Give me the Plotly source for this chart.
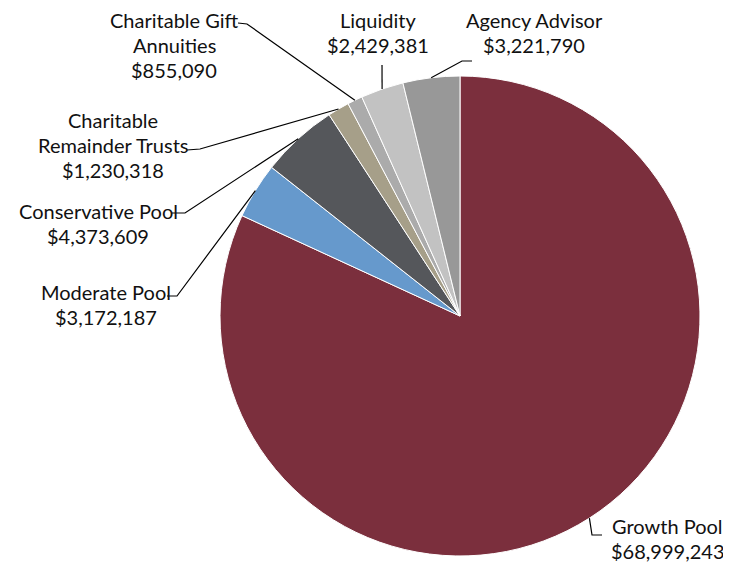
import math
import plotly.graph_objects as go

categories = ["Growth Pool", "Moderate Pool", "Conservative Pool",
              "Charitable Remainder Trusts", "Charitable Gift Annuities",
              "Liquidity", "Agency Advisor"]
values = [68999243, 3172187, 4373609, 1230318, 855090, 2429381, 3221790]
label_lines = [["Growth Pool"], ["Moderate Pool"], ["Conservative Pool"],
               ["Charitable", "Remainder Trusts"], ["Charitable Gift", "Annuities"],
               ["Liquidity"], ["Agency Advisor"]]
colors = ["#7B2F3D", "#6699CC", "#55575B", "#A69F89", "#ABABAB", "#C2C2C2", "#989898"]

W, H = 731, 563
OFF = 8  # page body margin
CX, CY, R = 460, 316, 240
FONT = dict(family="Lato, 'Open Sans', sans-serif", size=20, color="#111111")
LINE_H = 25

# label placement: (center x, y of first line) in page pixels, and leader elbow points
label_pos = [(667, 526), (106, 292), (98, 211), (113, 120), (174, 20), (378, 20), (534, 20)]
elbow = [[(592, 535), (602, 535)],
         [(177, 296), (167, 296)],
         [(185, 213), (172, 213)],
         [(200, 149), (187, 150)],
         [(247, 24), (238, 23)],
         [(382, 65)],
         [(462, 61), (472, 61)]]

fig = go.Figure()
PW, PH = W - OFF, H - OFF
fig.add_trace(go.Pie(
    labels=categories, values=values, sort=False, direction="clockwise", rotation=0,
    marker=dict(colors=colors, line=dict(color="white", width=1)),
    textinfo="none", hoverinfo="label+value", showlegend=False,
    domain=dict(x=[(CX - R - OFF) / PW, (CX + R - OFF) / PW],
                y=[1 - (CY + R - OFF) / PH, 1 - (CY - R - OFF) / PH]),
))

total = sum(values)
cum = 0.0
shapes = []
annotations = []
for i, v in enumerate(values):
    mid = (cum + v / 2) / total * 2 * math.pi
    cum += v
    ax = CX + R * math.sin(mid)
    ay = CY - R * math.cos(mid)
    pts = [(ax, ay)] + elbow[i]
    path = "M " + " L ".join(f"{x:.1f},{y:.1f}" for x, y in pts)
    shapes.append(dict(type="path", path=path, xref="x", yref="y",
                       line=dict(color="black", width=1.2)))
    lx, ly = label_pos[i]
    lines = label_lines[i] + [f"${v:,}"]
    for k, t in enumerate(lines):
        annotations.append(dict(x=lx, y=ly + k * LINE_H, xref="x", yref="y", showarrow=False,
                                text=t, font=FONT, xanchor="center", yanchor="middle"))

fig.update_layout(
    width=PW, height=PH, margin=dict(l=0, r=0, t=0, b=0),
    paper_bgcolor="white", plot_bgcolor="rgba(0,0,0,0)",
    xaxis=dict(range=[OFF, W], visible=False, fixedrange=True),
    yaxis=dict(range=[H, OFF], visible=False, fixedrange=True),
    shapes=shapes, annotations=annotations,
)
fig.write_html("out.html")
